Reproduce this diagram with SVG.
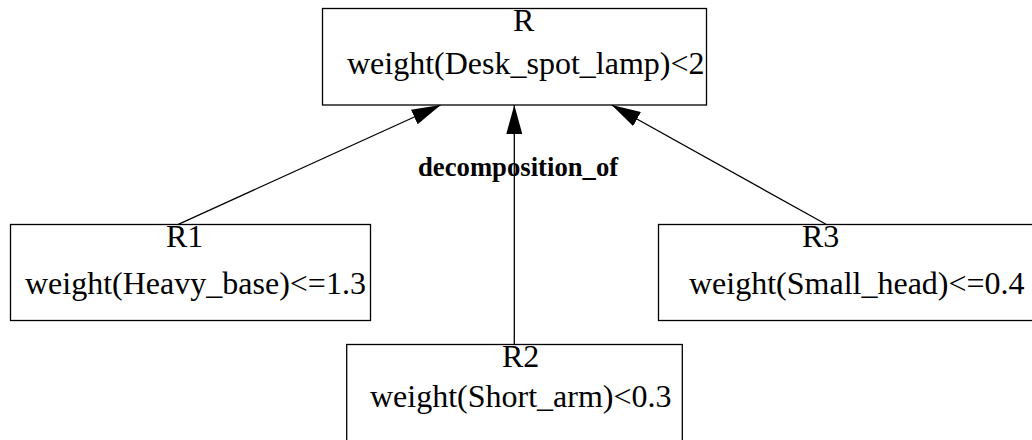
<svg xmlns="http://www.w3.org/2000/svg" width="1032" height="440" viewBox="0 0 1032 440">
<style>
.box{fill:#fff;stroke:#000;stroke-width:1.3}
.t{font-family:"Liberation Serif","Times New Roman",serif;font-size:32px;fill:#000}
.lbl{font-family:"Liberation Serif","Times New Roman",serif;font-size:26.7px;font-weight:bold;fill:#000}
.edge{stroke:#000;stroke-width:1.3;fill:none}
</style>
<defs>
<marker id="arr" viewBox="0 0 29 16" refX="29" refY="8" markerWidth="29" markerHeight="16" markerUnits="userSpaceOnUse" orient="auto">
<path d="M0,0 L29,8 L0,16 z" fill="#000"/>
</marker>
</defs>
<rect width="1032" height="440" fill="#fff"/>
<g id="connectors">
<line class="edge" x1="178.3" y1="224.3" x2="440.7" y2="105" marker-end="url(#arr)"/>
<line class="edge" x1="514.3" y1="344.5" x2="514.3" y2="105" marker-end="url(#arr)"/>
<line class="edge" x1="826" y1="224.3" x2="611.7" y2="105" marker-end="url(#arr)"/>
<text class="lbl" x="418" y="176">decomposition_of</text>
</g>
<g id="R">
<rect class="box" x="322.5" y="8.5" width="384" height="96.5"/>
<text class="t" x="513" y="31">R</text>
<text class="t" x="347" y="74">weight(Desk_spot_lamp)&lt;2</text>
</g>
<g id="R1">
<rect class="box" x="10.5" y="224.5" width="360" height="96"/>
<text class="t" x="166" y="247">R1</text>
<text class="t" x="25" y="294">weight(Heavy_base)&lt;=1.3</text>
</g>
<g id="R3">
<rect class="box" x="658.5" y="224.5" width="390" height="96"/>
<text class="t" x="802" y="247">R3</text>
<text class="t" x="689" y="294">weight(Small_head)&lt;=0.4</text>
</g>
<g id="R2">
<rect class="box" x="346.7" y="344.5" width="335.6" height="100"/>
<text class="t" x="502" y="367">R2</text>
<text class="t" x="370" y="407">weight(Short_arm)&lt;0.3</text>
</g>
</svg>
